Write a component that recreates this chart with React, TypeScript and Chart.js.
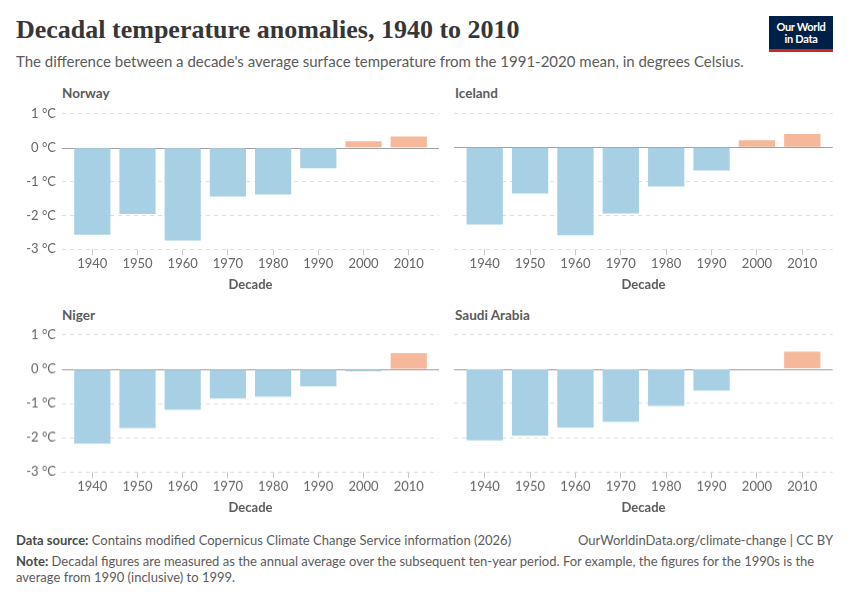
import React, { useEffect, useRef } from "react";
import { Chart, registerables } from "chart.js";
Chart.register(...registerables);

const decades = [1940, 1950, 1960, 1970, 1980, 1990, 2000, 2010];
const norway = [-2.57, -1.96, -2.74, -1.44, -1.38, -0.61, 0.19, 0.33];
const iceland = [-2.27, -1.36, -2.59, -1.95, -1.15, -0.68, 0.21, 0.39];
const niger = [-2.17, -1.72, -1.18, -0.85, -0.8, -0.5, -0.06, 0.47];
const saudiArabia = [-2.08, -1.94, -1.71, -1.54, -1.08, -0.63, 0.0, 0.5];
const yTickValues = [-3, -2, -1, 0, 1];
const yUnit = "°C";

const BLUE = "#a8d0e4";
const ORANGE = "#f6b89a";
const FONT = "Lato, 'Noto Sans', sans-serif";
const TEXT = "#5b5b5b";

type PanelProps = {
  values: number[];
  left: number;
  top: number;
  width: number;
  height: number;
  yAxisWidth: number;
  padRight: number;
  showYLabels: boolean;
};

const zeroLine = {
  id: "zeroLine",
  beforeDatasetsDraw(chart: any) {
    const y = chart.scales.y.getPixelForValue(0);
    const { left, right } = chart.chartArea;
    const ctx = chart.ctx;
    ctx.save();
    ctx.strokeStyle = "#a0a0a0";
    ctx.lineWidth = 1;
    ctx.beginPath();
    ctx.moveTo(left, Math.round(y) + 0.5);
    ctx.lineTo(right, Math.round(y) + 0.5);
    ctx.stroke();
    ctx.restore();
  },
};

function Panel(p: PanelProps) {
  const ref = useRef<HTMLCanvasElement>(null);
  useEffect(() => {
    if (!ref.current) return;
    const chart = new Chart(ref.current, {
      type: "bar",
      data: {
        datasets: [
          {
            data: decades.map((d, i) => ({ x: d, y: p.values[i] })),
            backgroundColor: p.values.map((v) => (v < 0 ? BLUE : ORANGE)),
            borderWidth: 0,
            barPercentage: 0.8,
            categoryPercentage: 1,
          },
        ],
      },
      options: {
        animation: false,
        responsive: false,
        maintainAspectRatio: false,
        devicePixelRatio: 1,
        layout: { padding: { top: 13.3, bottom: 0.7, left: 0, right: p.padRight } },
        plugins: { legend: { display: false }, tooltip: { enabled: false }, title: { display: false } },
        scales: {
          x: {
            type: "linear",
            position: "bottom",
            offset: false,
            min: 1933.3,
            max: 2016.7,
            afterBuildTicks: (axis: any) => {
              axis.ticks = decades.map((v) => ({ value: v }));
            },
            afterFit: (s: any) => {
              s.height = 45;
            },
            ticks: {
              autoSkip: false,
              maxRotation: 0,
              padding: 1,
              color: "#666",
              font: { family: FONT, size: 13 },
              callback: (v: any) => String(v),
            },
            grid: { display: true, drawOnChartArea: false, drawTicks: true, tickLength: 6, color: "#c8c8c8", offset: false },
            border: { display: false },
            title: {
              display: true,
              text: "Decade",
              color: TEXT,
              font: { family: FONT, size: 13, weight: "bold" },
              padding: { top: 0, bottom: 1.5 },
            },
          },
          y: {
            min: -3,
            max: 1,
            afterBuildTicks: (axis: any) => {
              axis.ticks = yTickValues.map((v) => ({ value: v }));
            },
            afterFit: (s: any) => {
              s.width = p.yAxisWidth;
            },
            ticks: {
              display: p.showYLabels,
              padding: 6,
              color: "#666",
              font: { family: FONT, size: 13 },
              callback: (v: any) => `${v} ${yUnit}`,
            },
            grid: {
              drawTicks: false,
              color: (c: any) => (c.tick && c.tick.value === 0 ? "rgba(0,0,0,0)" : "#dddddd"),
              lineWidth: 1,
            },
            border: { display: false, dash: [4, 4] },
          },
        },
      },
      plugins: [zeroLine],
    } as any);
    return () => chart.destroy();
  }, []);
  return (
    <canvas
      ref={ref}
      width={p.width}
      height={p.height}
      style={{ position: "absolute", left: p.left, top: p.top, width: p.width, height: p.height }}
    />
  );
}

const panelTitle = (text: string, left: number, top: number) => (
  <div
    style={{
      position: "absolute",
      left,
      top,
      fontFamily: FONT,
      fontWeight: 700,
      fontSize: 13.5,
      lineHeight: "16px",
      color: TEXT,
      whiteSpace: "nowrap",
    }}
  >
    {text}
  </div>
);

export default function App() {
  return (
    <div
      style={{
        position: "absolute",
        left: 0,
        top: 0,
        width: 850,
        height: 600,
        background: "#fff",
        overflow: "hidden",
        fontFamily: FONT,
      }}
    >
      <div
        style={{
          position: "absolute",
          left: 16,
          top: 15,
          fontFamily: "'Liberation Serif', 'DejaVu Serif', serif",
          fontSize: 26,
          fontWeight: 700,
          lineHeight: "30px",
          color: "#363636",
          whiteSpace: "nowrap",
        }}
      >
        Decadal temperature anomalies, 1940 to 2010
      </div>
      <div
        style={{
          position: "absolute",
          left: 16,
          top: 52,
          fontSize: 15,
          lineHeight: "18px",
          color: TEXT,
          whiteSpace: "nowrap",
        }}
      >
        The difference between a decade's average surface temperature from the 1991-2020 mean, in degrees Celsius.
      </div>
      <div
        style={{
          position: "absolute",
          left: 769,
          top: 16,
          width: 64,
          height: 36,
          background: "#002147",
          borderBottom: "3px solid #ce261e",
          boxSizing: "border-box",
          color: "#fff",
          fontFamily: FONT,
          fontWeight: 700,
          fontSize: 11,
          lineHeight: "12px",
          textAlign: "center",
          paddingTop: 5,
          letterSpacing: -0.3,
        }}
      >
        Our World
        <br />
        in Data
      </div>

      {panelTitle("Norway", 62, 85)}
      {panelTitle("Iceland", 455, 85)}
      {panelTitle("Niger", 62, 307)}
      {panelTitle("Saudi Arabia", 455, 307)}

      <Panel values={norway} left={0} top={100} width={445} height={195} yAxisWidth={62} padRight={6} showYLabels={true} />
      <Panel values={iceland} left={445} top={100} width={405} height={195} yAxisWidth={9.3} padRight={17.3} showYLabels={false} />
      <Panel values={niger} left={0} top={321.4} width={445} height={196.3} yAxisWidth={62} padRight={6} showYLabels={true} />
      <Panel values={saudiArabia} left={445} top={321.4} width={405} height={196.3} yAxisWidth={9.3} padRight={17.3} showYLabels={false} />

      <div style={{ position: "absolute", left: 16, top: 532, fontSize: 13, lineHeight: "16px", color: TEXT, whiteSpace: "nowrap" }}>
        <span style={{ fontWeight: 700, color: "#4a4a4a" }}>Data source:</span> Contains modified Copernicus Climate Change Service information (2026)
      </div>
      <div style={{ position: "absolute", right: 17, top: 532, fontSize: 13, lineHeight: "16px", color: TEXT, whiteSpace: "nowrap" }}>
        OurWorldinData.org/climate-change | CC BY
      </div>
      <div style={{ position: "absolute", left: 16, top: 553, width: 820, fontSize: 13, lineHeight: "16px", color: TEXT }}>
        <span style={{ fontWeight: 700, color: "#4a4a4a" }}>Note:</span> Decadal figures are measured as the annual average over the subsequent ten-year period. For example, the figures for the 1990s is the average from 1990 (inclusive) to 1999.
      </div>
    </div>
  );
}
